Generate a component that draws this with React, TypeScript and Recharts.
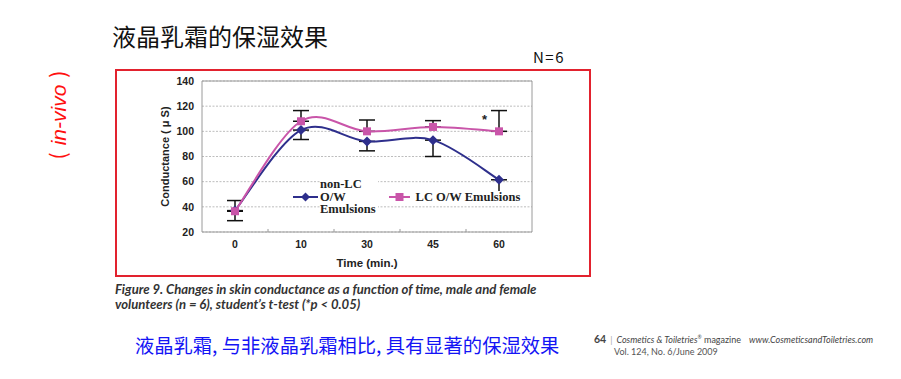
import React from 'react';
import {
  LineChart, Line, XAxis, YAxis, CartesianGrid, ErrorBar, ReferenceArea,
  ReferenceLine, Legend, Label,
} from 'recharts';

// ---- data ----
const timeLabels = ['0', '10', '30', '45', '60'];
const nonLCValues = [37, 101, 92, 93, 61.5];
const lcValues = [36.5, 108, 100, 103.5, 100];
const nonLCErrLow = [8, 7.5, 7.5, 13, 9.5];
const lcErrHigh = [8.5, 8.5, 9, 5, 16.5];
const yTicks = [20, 40, 60, 80, 100, 120, 140];

const data = timeLabels.map((t, i) => ({
  idx: i,
  time: t,
  nonLC: nonLCValues[i],
  lc: lcValues[i],
  nonLCErr: [nonLCErrLow[i], 0],
  lcErr: [0, lcErrHigh[i]],
}));

const boundaries = [0.5, 1.5, 2.5, 3.5];

const BLUE = '#2E2F8C';
const PINK = '#C955A9';
const AXIS_FONT = '"Liberation Sans", Arial, sans-serif';

// Excel-like smoothed line (Catmull-Rom)
function excelCurve(context: any) {
  let pts: [number, number][] = [];
  return {
    areaStart() {},
    areaEnd() {},
    lineStart() { pts = []; },
    point(x: number, y: number) { pts.push([+x, +y]); },
    lineEnd() {
      if (!pts.length) return;
      context.moveTo(pts[0][0], pts[0][1]);
      for (let i = 0; i < pts.length - 1; i++) {
        const p0 = pts[i - 1] || pts[i];
        const p1 = pts[i];
        const p2 = pts[i + 1];
        const p3 = pts[i + 2] || pts[i + 1];
        const t = 1 / 6;
        context.bezierCurveTo(
          p1[0] + (p2[0] - p0[0]) * t, p1[1] + (p2[1] - p0[1]) * t,
          p2[0] - (p3[0] - p1[0]) * t, p2[1] - (p3[1] - p1[1]) * t,
          p2[0], p2[1],
        );
      }
    },
  };
}

const DiamondDot = (props: any) => {
  const { cx, cy, index } = props;
  if (cx == null || cy == null) return <g key={`d${index}`} />;
  const r = 5;
  return (
    <polygon key={`d${index}`} points={`${cx},${cy - r} ${cx + r},${cy} ${cx},${cy + r} ${cx - r},${cy}`} fill={BLUE} />
  );
};

const SquareDot = (props: any) => {
  const { cx, cy, index } = props;
  if (cx == null || cy == null) return <g key={`s${index}`} />;
  const s = 8;
  return <rect key={`s${index}`} x={cx - s / 2} y={cy - s / 2} width={s} height={s} fill={PINK} />;
};

const LegendContent = () => (
  <div
    style={{
      display: 'flex', alignItems: 'center',
      fontFamily: '"Liberation Serif", "Times New Roman", serif', fontWeight: 'bold',
      fontSize: 12.5, lineHeight: '12.5px', color: '#222', whiteSpace: 'nowrap',
    }}
  >
    <svg width={25} height={10} style={{ display: 'block' }}>
      <line x1={0} y1={5} x2={25} y2={5} stroke={BLUE} strokeWidth={2} />
      <polygon points="12.5,0.5 17,5 12.5,9.5 8,5" fill={BLUE} />
    </svg>
    <div style={{ background: '#fff', marginLeft: 2, padding: '0 2px 0 0' }}>
      non-LC<br />O/W<br />Emulsions
    </div>
    <svg width={21} height={10} style={{ display: 'block', marginLeft: 11 }}>
      <line x1={0} y1={5} x2={21} y2={5} stroke={PINK} strokeWidth={2} />
      <rect x={6.5} y={1} width={8} height={8} fill={PINK} />
    </svg>
    <div style={{ background: '#fff', marginLeft: 6 }}>LC O/W Emulsions</div>
  </div>
);

const abs = (s: React.CSSProperties): React.CSSProperties => ({ position: 'absolute', whiteSpace: 'nowrap', ...s });

export default function App() {
  return (
    <div style={{ position: 'fixed', left: 0, top: 0, width: 901, height: 379, background: '#fff', overflow: 'hidden' }}>
      {/* red frame */}
      <div style={abs({ left: 115, top: 69, width: 476, height: 208, border: '2px solid #E2222E', boxSizing: 'border-box' })} />

      <div style={abs({ left: 0, top: 0 })}>
        <LineChart
          width={901}
          height={379}
          data={data}
          margin={{ top: 81, right: 369, bottom: 117, left: 152 }}
        >
          <CartesianGrid vertical={false} stroke="#bdbdbd" strokeDasharray="2 1.5" />
          <ReferenceArea y1={20} y2={140} fill="none" stroke="#9a9a9a" strokeWidth={1} />
          {boundaries.map((b) => (
            <ReferenceLine
              key={b}
              segment={[{ x: b, y: 20 }, { x: b, y: 22.4 }]}
              stroke="#9a9a9a"
            />
          ))}
          <XAxis
            dataKey="idx"
            type="number"
            domain={[-0.5, 4.5]}
            ticks={[0, 1, 2, 3, 4]}
            tickFormatter={(v: number) => timeLabels[v]}
            tickLine={false}
            axisLine={false}
            height={30}
            tickMargin={3}
            tick={{ fontFamily: AXIS_FONT, fontWeight: 'bold', fontSize: 10.5, fill: '#222' }}
          >
            <Label
              value="Time (min.)"
              position="bottom"
              offset={-3}
              style={{ fontFamily: AXIS_FONT, fontWeight: 'bold', fontSize: 11.5, fill: '#222' }}
            />
          </XAxis>
          <YAxis
            type="number"
            domain={[20, 140]}
            ticks={yTicks}
            interval={0}
            tickLine={false}
            axisLine={false}
            width={50}
            tick={{ fontFamily: AXIS_FONT, fontWeight: 'bold', fontSize: 10.5, fill: '#222' }}
          >
            <Label
              value="Conductance ( μ S)"
              angle={-90}
              position="insideLeft"
              offset={13}
              style={{ textAnchor: 'middle', fontFamily: AXIS_FONT, fontWeight: 'bold', fontSize: 11, fill: '#222' }}
            />
          </YAxis>
          <Legend
            layout="horizontal"
            verticalAlign="middle"
            align="center"
            content={LegendContent}
            wrapperStyle={{ left: 293, top: 178, width: 240 }}
          />
          <Line
            dataKey="nonLC"
            type={excelCurve as any}
            stroke={BLUE}
            strokeWidth={2}
            dot={DiamondDot}
            activeDot={false}
            isAnimationActive={false}
            legendType="none"
          >
            <ErrorBar dataKey="nonLCErr" direction="y" width={8} stroke="#111" strokeWidth={1.5} />
          </Line>
          <Line
            dataKey="lc"
            type={excelCurve as any}
            stroke={PINK}
            strokeWidth={2}
            dot={SquareDot}
            activeDot={false}
            isAnimationActive={false}
            legendType="none"
          >
            <ErrorBar dataKey="lcErr" direction="y" width={8} stroke="#111" strokeWidth={1.5} />
          </Line>
        </LineChart>
      </div>

      {/* significance marker */}
      <div style={abs({ left: 482, top: 112, fontFamily: '"Liberation Sans", Arial, sans-serif', fontWeight: 'bold', fontSize: 13, color: '#222' })}>*</div>

      {/* title */}
      <div style={abs({ left: 112, top: 22, fontFamily: '"Noto Sans CJK SC", sans-serif', fontSize: 24, lineHeight: '28px', color: '#111' })}>
        液晶乳霜的保湿效果
      </div>
      <div style={abs({ left: 533, top: 48, fontFamily: '"Noto Sans CJK SC", sans-serif', fontSize: 15, lineHeight: '18px', color: '#111', letterSpacing: 1.5 })}>
        N=6
      </div>

      {/* in-vivo */}
      <div
        style={abs({
          left: 58, top: 115, transform: 'translate(-50%, -50%) rotate(-90deg)',
          fontFamily: '"Liberation Sans", sans-serif', fontStyle: 'italic',
          fontSize: 21, lineHeight: '24px', color: '#FF1010',
        })}
      >
        <span style={{ fontFamily: '"Noto Sans CJK SC", sans-serif', fontStyle: 'normal', marginRight: 7 }}>(</span>
        in-vivo
        <span style={{ fontFamily: '"Noto Sans CJK SC", sans-serif', fontStyle: 'normal', marginLeft: 7 }}>)</span>
      </div>

      {/* figure caption */}
      <div style={abs({ left: 115, top: 282, fontFamily: 'Lato, sans-serif', fontStyle: 'italic', fontWeight: 'bold', fontSize: 13.1, lineHeight: '15px', color: '#333' })}>
        Figure 9. Changes in skin conductance as a function of time, male and female<br />
        volunteers (n = 6), student’s t-test (*p &lt; 0.05)
      </div>

      {/* blue conclusion */}
      <div style={abs({ left: 135, top: 333, fontFamily: '"Noto Sans CJK SC", sans-serif', fontSize: 19.3, lineHeight: '24px', color: '#1414F5' })}>
        液晶乳霜, 与非液晶乳霜相比, 具有显著的保湿效果
      </div>

      {/* journal footer */}
      <div style={abs({ left: 594, top: 331, fontFamily: 'Lato, sans-serif', fontSize: 9, lineHeight: '13px', color: '#444' })}>
        <span style={{ fontWeight: 'bold', fontSize: 10.5 }}>64</span>
        <span style={{ color: '#aaa', margin: '0 4px' }}>|</span>
        <span style={{ fontStyle: 'italic' }}>Cosmetics &amp; Toiletries<sup style={{ fontSize: 5 }}>®</sup></span>
        <span> magazine</span>
        <span style={{ fontStyle: 'italic', marginLeft: 8 }}>www.CosmeticsandToiletries.com</span>
      </div>
      <div style={abs({ left: 614, top: 346, fontFamily: 'Lato, sans-serif', fontSize: 9, lineHeight: '12px', color: '#555' })}>
        Vol. 124, No. 6/June 2009
      </div>
    </div>
  );
}
